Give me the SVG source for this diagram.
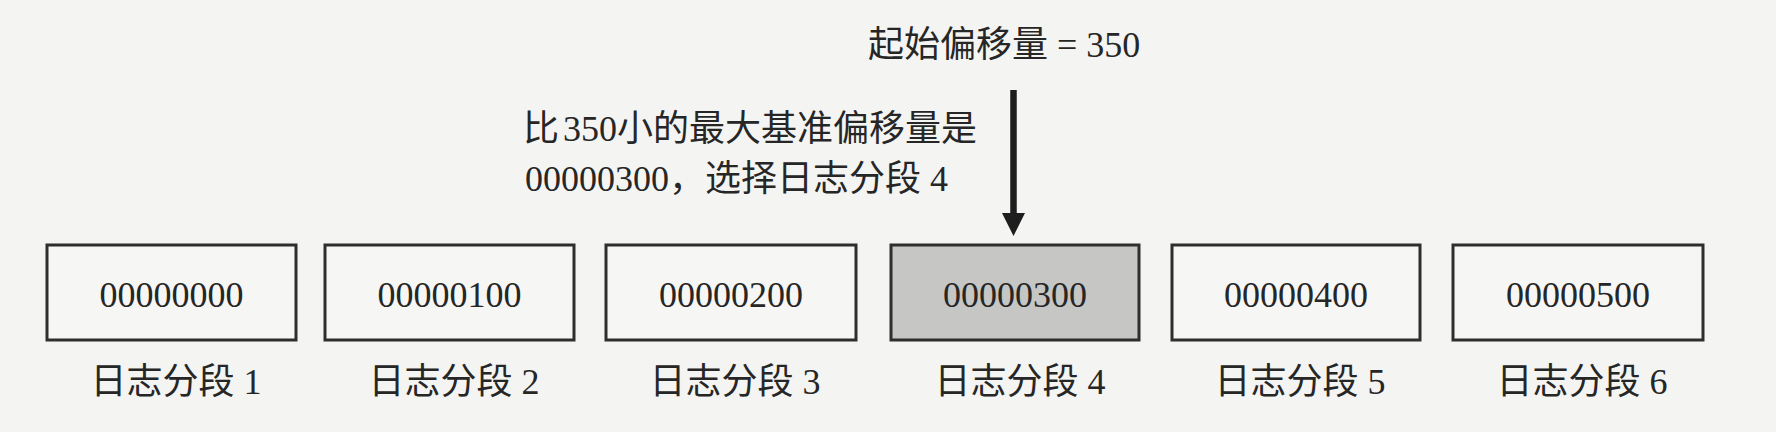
<svg xmlns="http://www.w3.org/2000/svg" width="1776" height="432" viewBox="0 0 1776 432">
  <style>
    .bg { fill: #f4f4f2; }
    .seg { fill: #f6f6f4; stroke: #2e2e2e; stroke-width: 3; }
    .seg.sel { fill: #c6c6c4; }
    .t { font-family: "Liberation Serif", "Noto Sans CJK SC", serif; font-size: 36px; fill: #262626; }
    .num { font-family: "Liberation Serif", serif; }
    .mid { text-anchor: middle; }
  </style>
  <defs>
    <marker id="ah" viewBox="0 0 23 23" refX="1" refY="11.5" markerWidth="23" markerHeight="23" orient="auto" markerUnits="userSpaceOnUse">
      <path d="M0,0 L23,11.5 L0,23 z" fill="#1e1e1e"/>
    </marker>
  </defs>
  <rect class="bg" x="0" y="0" width="1776" height="432"/>

  <g id="title">
    <text class="t" x="868" y="57">起始偏移量 = 350</text>
  </g>
  <g id="note">
    <text class="t" x="523" y="141">比<tspan class="num" dx="4">350</tspan>小的最大基准偏移量是</text>
    <text class="t" x="525" y="191"><tspan class="num">00000300</tspan>，选择日志分段 4</text>
  </g>

  <g id="connectors">
    <line x1="1013.5" y1="90" x2="1013.5" y2="214" stroke="#1e1e1e" stroke-width="6.5" marker-end="url(#ah)"/>
  </g>

  <g id="seg1">
    <rect class="seg" x="47" y="245" width="249" height="95"/>
    <text class="t mid" x="171.5" y="307">00000000</text>
    <text class="t mid" x="176" y="394">日志分段 1</text>
  </g>
  <g id="seg2">
    <rect class="seg" x="325" y="245" width="249" height="95"/>
    <text class="t mid" x="449.5" y="307">00000100</text>
    <text class="t mid" x="454" y="394">日志分段 2</text>
  </g>
  <g id="seg3">
    <rect class="seg" x="606" y="245" width="250" height="95"/>
    <text class="t mid" x="731" y="307">00000200</text>
    <text class="t mid" x="735" y="394">日志分段 3</text>
  </g>
  <g id="seg4">
    <rect class="seg sel" x="891" y="245" width="248" height="95"/>
    <text class="t mid" x="1015" y="307">00000300</text>
    <text class="t mid" x="1020" y="394">日志分段 4</text>
  </g>
  <g id="seg5">
    <rect class="seg" x="1172" y="245" width="248" height="95"/>
    <text class="t mid" x="1296" y="307">00000400</text>
    <text class="t mid" x="1300" y="394">日志分段 5</text>
  </g>
  <g id="seg6">
    <rect class="seg" x="1453" y="245" width="250" height="95"/>
    <text class="t mid" x="1578" y="307">00000500</text>
    <text class="t mid" x="1582" y="394">日志分段 6</text>
  </g>
</svg>
